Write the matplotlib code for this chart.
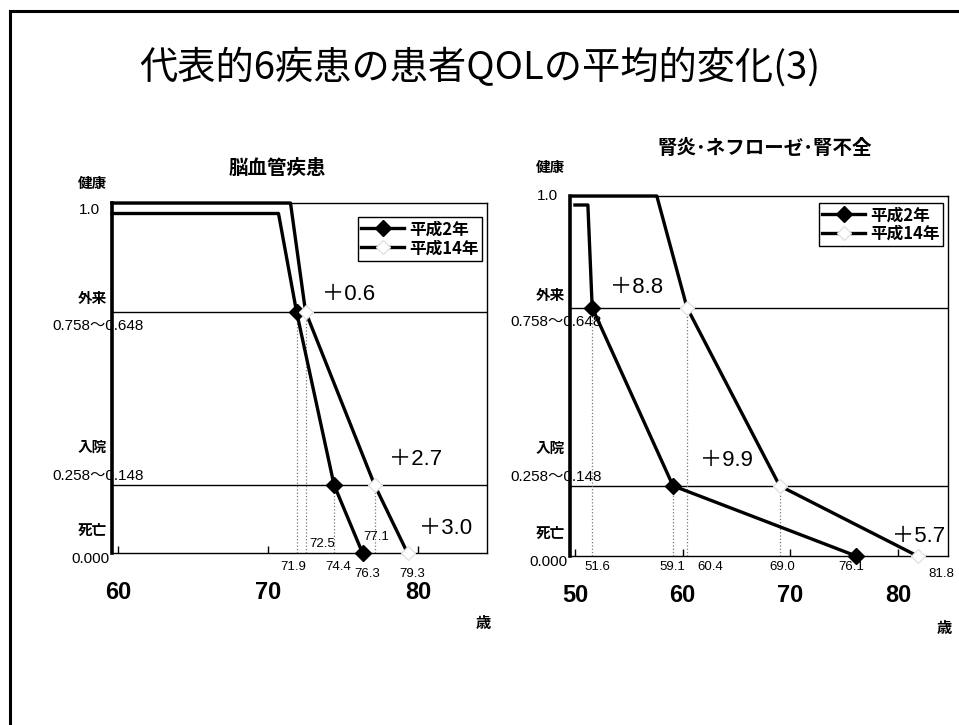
import matplotlib
matplotlib.use("Agg")
import matplotlib.pyplot as plt
from matplotlib.lines import Line2D

plt.rcParams['font.family'] = ['Liberation Sans', 'Noto Sans CJK JP', 'DejaVu Sans']
JP = ['Noto Sans CJK JP', 'DejaVu Sans']
NUM = ['Liberation Sans', 'Noto Sans CJK JP']

# data (age, QOL weight)
title = "代表的6疾患の患者QOLの平均的変化(3)"
series_names = ["平成2年", "平成14年"]
level_names = ["健康", "外来", "入院", "死亡"]
level_ranges = ["1.0", "0.758～0.648", "0.258～0.148", "0.000"]

cvd_title = "脳血管疾患"
cvd_h2_age = [59.6, 70.7, 71.9, 74.4, 76.3]
cvd_h2_qol = [0.97, 0.97, 0.69, 0.195, 0.0]
cvd_h14_age = [59.6, 71.5, 72.5, 77.1, 79.3]
cvd_h14_qol = [1.0, 1.0, 0.69, 0.195, 0.0]

kid_title = "腎炎･ネフローゼ･腎不全"
kid_h2_age = [50.0, 51.2, 51.6, 59.1, 76.1]
kid_h2_qol = [0.975, 0.975, 0.69, 0.195, 0.0]
kid_h14_age = [49.8, 57.6, 60.4, 69.0, 81.8]
kid_h14_qol = [1.0, 1.0, 0.69, 0.195, 0.0]

fig = plt.figure(figsize=(9.59, 7.25), dpi=100)

# slide frame (top and left edges)
fig.add_artist(Line2D([10 / 959, 10 / 959], [0, 1 - 11 / 725], color='black', lw=2.2,
                      transform=fig.transFigure))
fig.add_artist(Line2D([10 / 959, 1], [1 - 11 / 725, 1 - 11 / 725], color='black', lw=2.2,
                      transform=fig.transFigure))

fig.text(480 / 959, 1 - 68 / 725, title, ha='center', va='center', fontsize=27.5,
         family=JP)


def panel(ax, name, h2_age, h2_qol, h14_age, h14_qol, xlim, xticks,
          val_offsets, diff_pos, title_pos, top_offsets, legend_anchor):
    ax.set_xlim(*xlim)
    ax.set_ylim(0, 1)

    # level lines
    for q in h2_qol[2:4]:
        ax.axhline(q, color='black', lw=1.0, zorder=1)

    # dotted drop lines
    ax.vlines(h2_age[2:4], 0, h2_qol[2:4], colors='#777777', linestyles=':', lw=0.9)
    ax.vlines(h14_age[2:4], 0, h14_qol[2:4], colors='#777777', linestyles=':', lw=0.9)

    ax.plot(h2_age, h2_qol, color='black', lw=2.4, marker='D', markersize=8,
            markevery=[2, 3, 4], clip_on=False, zorder=4, label=series_names[0])
    ax.plot(h14_age, h14_qol, color='black', lw=2.4, marker='D', markersize=7,
            markerfacecolor='white', markeredgecolor='#e2e2e2',
            markevery=[2, 3, 4], clip_on=False, zorder=4, label=series_names[1])

    # age labels under the axis
    ages = h2_age[2:] + h14_age[2:]
    for a, (dx, dy) in zip(ages, val_offsets):
        ax.annotate(f"{a:.1f}", xy=(a, 0), xytext=(dx, dy), textcoords='offset pixels',
                    ha='center', va='center', fontsize=9.5, family=NUM)

    # gains
    for i, (px, py) in zip([2, 3, 4], diff_pos):
        d = h14_age[i] - h2_age[i]
        ax.text(px, py, f"＋{d:.1f}", ha='left', va='center', fontsize=16, family=NUM)

    # y-axis level labels
    top_name_dy, top_val_dy = top_offsets
    name_ys = [1.0, h2_qol[2], h2_qol[3], 0.0]
    name_dy = [top_name_dy, 13, 38, 23]
    val_dy = [top_val_dy, -14, 9, -6]
    val_dx = [-23, -14, -14, -22]
    for lab, rng, y, ndy, vdy, vdx in zip(level_names, level_ranges, name_ys,
                                         name_dy, val_dy, val_dx):
        ax.annotate(lab, xy=(0, y), xycoords=('axes fraction', 'data'),
                    xytext=(-20, ndy), textcoords='offset pixels', ha='center',
                    va='center', fontsize=10.5, fontweight='bold', family=JP,
                    annotation_clip=False)
        ax.annotate(rng, xy=(0, y), xycoords=('axes fraction', 'data'),
                    xytext=(vdx, vdy), textcoords='offset pixels', ha='center',
                    va='center', fontsize=11, family=NUM, annotation_clip=False)

    ax.text(title_pos[0], title_pos[1], name, transform=ax.transAxes, ha='center',
            va='center', fontsize=14, fontweight='bold', family=JP)
    ax.text(0.99, -0.2, "歳", transform=ax.transAxes, ha='center', va='center',
            fontsize=11, fontweight='bold', family=JP)

    ax.set_xticks(xticks)
    ax.set_xticklabels([str(t) for t in xticks], fontsize=17, fontweight='bold',
                       family=NUM)
    ax.tick_params(axis='x', direction='in', length=5, width=1, pad=20)
    ax.set_yticks([])
    for s in ['top', 'right', 'bottom']:
        ax.spines[s].set_linewidth(1.0)
    ax.spines['left'].set_linewidth(2.6)

    leg = ax.legend(loc='upper right', bbox_to_anchor=legend_anchor, frameon=True,
                    fancybox=False, edgecolor='black', framealpha=1,
                    prop=dict(family=JP, weight='bold', size=12),
                    handlelength=2.6, handletextpad=0.3, borderpad=0.2,
                    labelspacing=0.05, borderaxespad=0)
    leg.get_frame().set_linewidth(1.0)


ax1 = fig.add_axes([112 / 959, 1 - 553 / 725, 375 / 959, 350 / 725])
panel(ax1, cvd_title, cvd_h2_age, cvd_h2_qol, cvd_h14_age, cvd_h14_qol,
      (59.6, 84.6), [60, 70, 80],
      [(-3, -14), (4, -14), (5, -21), (17, 9), (2, 16), (5, -21)],
      [(73.6, 0.74), (78.1, 0.266), (80.1, 0.071)],
      (0.44, 1.1), (20, -7), (0.987, 0.96))

ax2 = fig.add_axes([570 / 959, 1 - 556 / 725, 378 / 959, 360 / 725])
panel(ax2, kid_title, kid_h2_age, kid_h2_qol, kid_h14_age, kid_h14_qol,
      (49.54, 84.63), [50, 60, 70, 80],
      [(5, -11), (-1, -11), (-5, -11), (23, -11), (3, -11), (24, -18)],
      [(53.25, 0.747), (61.6, 0.264), (79.4, 0.053)],
      (0.516, 1.133), (29, 0), (0.987, 0.981))

fig.savefig("out.png", dpi=100)
